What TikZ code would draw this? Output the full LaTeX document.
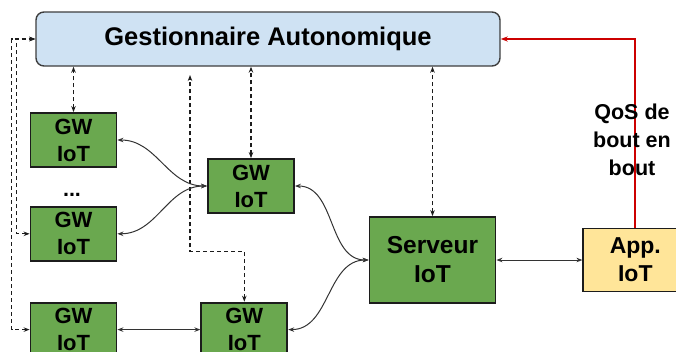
\documentclass[tikz,border=0pt]{standalone}
\usepackage{fontspec}
\setmainfont{Liberation Sans}
\usetikzlibrary{arrows.meta, positioning}
\definecolor{cgreen}{HTML}{6AA84F}
\definecolor{cblue}{HTML}{CFE2F3}
\definecolor{cyellow}{HTML}{FFE599}
\definecolor{cred}{HTML}{CC0000}
\definecolor{cdark}{HTML}{1C1C1C}
\tikzset{
  every picture/.style={x=1pt, y=1pt, font=\bfseries},
  box/.style={draw=cdark, fill=#1, line width=1.8pt, align=center, inner sep=0pt,
    font=\fontsize{22}{27}\selectfont\bfseries},
  box/.default=cgreen,
  gwbox/.style={box, minimum width=86pt, minimum height=54pt},
  topbox/.style={box=cblue, rounded corners=8pt, line width=1.4pt, draw=cdark!85,
    minimum width=464pt, minimum height=54pt, font=\fontsize{25.5}{29}\selectfont\bfseries},
  dasharr/.style={{Stealth[length=6pt, width=4.5pt]}-{Stealth[length=6pt, width=4.5pt]},
    line width=1.1pt, dash pattern=on 4pt off 3pt, draw=cdark},
  solarr/.style={{Stealth[length=6pt, width=4.5pt]}-{Stealth[length=6pt, width=4.5pt]},
    line width=1pt, draw=cdark!90},
  qosarr/.style={-{Stealth[length=7pt, width=5pt]}, line width=1.5pt, draw=cred},
  note/.style={align=center, inner sep=0pt, font=\fontsize{21.5}{28}\selectfont\bfseries},
}
\begin{document}
\begin{tikzpicture}
  \useasboundingbox (0,0) rectangle (676,-351);
  \clip (0,0) rectangle (676,-351);
  \node[topbox] (ga) at (268,-39) {Gestionnaire Autonomique};
  \node[gwbox] (gw1) at (73.5,-140) {GW\\IoT};
  \node[note, anchor=base] (dots) at (72,-196) {...};
  \node[gwbox, below=38pt of gw1] (gw2) {GW\\IoT};
  \node[gwbox, below=40pt of gw2] (gw3) {GW\\IoT};
  \node[gwbox, right=83pt of gw3] (gw5) {GW\\IoT};
  \node[gwbox] (gw4) at (251,-186) {GW\\IoT};
  \node[box, minimum width=126pt, minimum height=86pt,
    font=\fontsize{24.5}{29}\selectfont\bfseries] (srv) at (432.5,-260) {Serveur\\IoT};
  \node[box=cyellow, right=86pt of srv, minimum width=104pt, minimum height=63pt,
    font=\fontsize{23}{28}\selectfont\bfseries] (app) {App.\\IoT};
  \coordinate (gaup) at (190,-75);
  % QoS feedback
  \draw[qosarr] ([xshift=-0.5pt]app.north) |- (ga.east);
  \node[note] (qos) at (632,-140) {QoS de\\bout en\\bout};
  % control links
  \draw[dasharr] (gw1.north) -- (gw1.north |- ga.south);
  \draw[dasharr] (gw4.north) -- (gw4.north |- ga.south);
  \draw[dasharr] (srv.north) -- (srv.north |- ga.south);
  \draw[dasharr] (gw5.north) -- ++(0,50) -| (gaup);
  \draw[dasharr] (gw2.west) -- ++(-13,0) |- (ga.west);
  \draw[dasharr] (gw3.west) -- ++(-18,0) |- (ga.west);
  % data links
  \draw[solarr] (gw1.east) to[out=0, in=180] (gw4.west);
  \draw[solarr] (gw2.east) to[out=0, in=180] (gw4.west);
  \draw[solarr] (gw3.east) -- (gw5.west);
  \draw[solarr] (gw4.east) to[out=0, in=180] (srv.west);
  \draw[solarr] (gw5.east) to[out=0, in=180] (srv.west);
  \draw[solarr] (srv.east) -- (srv.east -| app.west);
\end{tikzpicture}
\end{document}
